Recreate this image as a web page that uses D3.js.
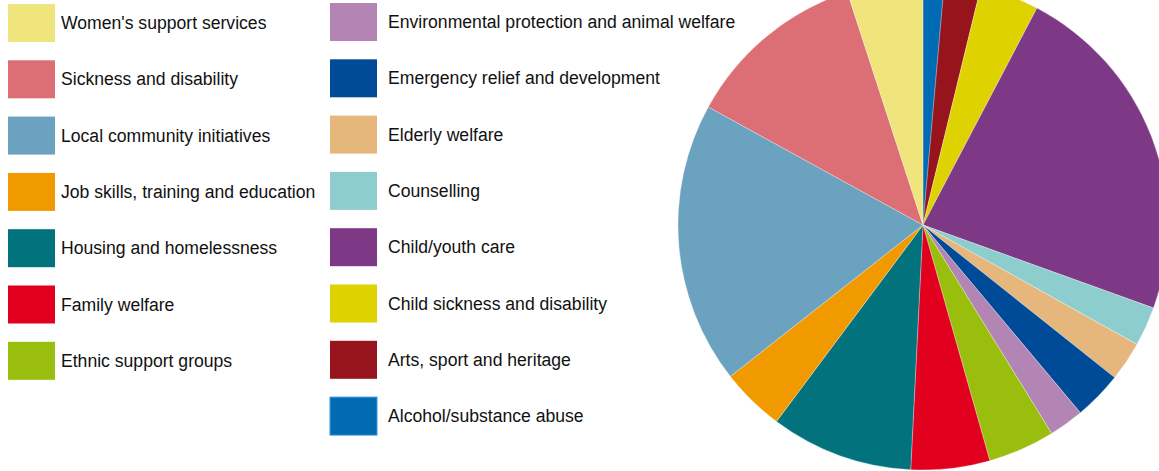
<!DOCTYPE html>
<html>
<head>
<meta charset="utf-8">
<script src="https://cdn.jsdelivr.net/npm/d3@7"></script>
<style>
  html, body { margin: 0; padding: 0; background: #fff; }
  svg { display: block; }
  text { font-family: Arial, "Liberation Sans", sans-serif; }
</style>
</head>
<body>
<svg id="chart" width="1159" height="471"></svg>
<script>
// Causes supported, listed clockwise from twelve o'clock
const categories = [
  "Alcohol/substance abuse",
  "Arts, sport and heritage",
  "Child sickness and disability",
  "Child/youth care",
  "Counselling",
  "Elderly welfare",
  "Emergency relief and development",
  "Environmental protection and animal welfare",
  "Ethnic support groups",
  "Family welfare",
  "Housing and homelessness",
  "Job skills, training and education",
  "Local community initiatives",
  "Sickness and disability",
  "Women's support services"
];

// Share of the total, per cent
const shares = [1.4, 2.4, 3.9, 22.8, 2.6, 2.6, 3.2, 2.3, 4.4, 5.2, 9.4, 4.2, 18.6, 12.0, 5.0];

const colors = [
  "#006bb3", "#98141d", "#ded200", "#7d3886", "#8ecdce",
  "#e5b77d", "#004b98", "#b385b5", "#9abe0e", "#e2001f",
  "#02737d", "#f09a00", "#6aa2c0", "#dc6f75", "#f0e47c"
];

const data = categories.map((c, i) => ({ name: c, value: shares[i], color: colors[i] }));

const svg = d3.select("#chart");

// Pie
const cx = 923, cy = 225, radius = 245;
const pie = d3.pie().value(d => d.value).sort(null).startAngle(0).endAngle(2 * Math.PI);
const arc = d3.arc().innerRadius(0).outerRadius(radius);

svg.append("g")
  .attr("transform", `translate(${cx},${cy})`)
  .selectAll("path")
  .data(pie(data))
  .join("path")
  .attr("d", arc)
  .attr("fill", d => d.data.color)
  .attr("stroke", d => d.data.name === "Alcohol/substance abuse" ? "#3a9ad9" : "#ffffff")
  .attr("stroke-width", d => d.data.name === "Alcohol/substance abuse" ? 0.8 : 0.3);

// Legend: reversed order, two columns
const legendItems = data.slice().reverse();
const colX = [8, 330];
const rowStep = 56.3;
const legend = svg.append("g");

legendItems.forEach((d, i) => {
  const col = i < 7 ? 0 : 1;
  const row = col === 0 ? i : i - 7;
  const x = colX[col];
  const y = (col === 0 ? 4 : 3) + row * rowStep;
  const g = legend.append("g").attr("transform", `translate(${x},${y})`);
  g.append("rect")
    .attr("width", 47)
    .attr("height", 38)
    .attr("fill", d.color)
    .attr("stroke", d.name === "Alcohol/substance abuse" ? "#3a9ad9" : "none")
    .attr("stroke-width", 1);
  g.append("text")
    .attr("x", 53 + (col === 1 ? 5 : 0))
    .attr("y", 25)
    .attr("font-size", 17.6)
    .attr("fill", "#111111")
    .text(d.name);
});
</script>
</body>
</html>
